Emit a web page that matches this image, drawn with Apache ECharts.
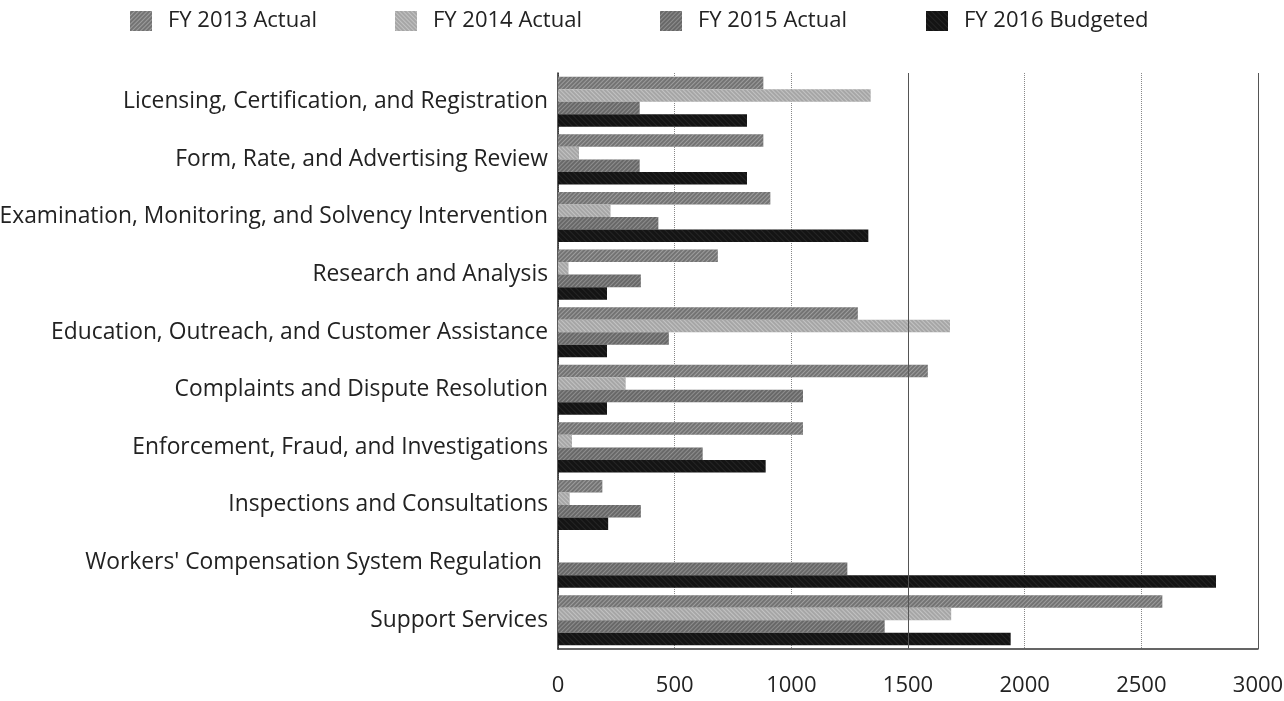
<!DOCTYPE html>
<html>
<head>
<meta charset="utf-8">
<script src="https://cdn.jsdelivr.net/npm/echarts@6/dist/echarts.min.js"></script>
<style>
html,body{margin:0;padding:0;background:#fff;}
#chart{width:1284px;height:701px;}
</style>
</head>
<body>
<div id="chart"></div>
<script>
var categories = [
  "Licensing, Certification, and Registration",
  "Form, Rate, and Advertising Review",
  "Examination, Monitoring, and Solvency Intervention",
  "Research and Analysis",
  "Education, Outreach, and Customer Assistance",
  "Complaints and Dispute Resolution",
  "Enforcement, Fraud, and Investigations",
  "Inspections and Consultations",
  "Workers' Compensation System Regulation ",
  "Support Services"
];
var seriesNames = ["FY 2013 Actual", "FY 2014 Actual", "FY 2015 Actual", "FY 2016 Budgeted"];
var fy2013 = [880, 880, 910, 685, 1285, 1585, 1050, 190, 0, 2590];
var fy2014 = [1340, 90, 225, 45, 1680, 290, 60, 50, 0, 1685];
var fy2015 = [350, 350, 430, 355, 475, 1050, 620, 355, 1240, 1400];
var fy2016 = [810, 810, 1330, 210, 210, 210, 890, 215, 2820, 1940];
var xTicks = [0, 500, 1000, 1500, 2000, 2500, 3000];

var FONT = "'Open Sans', 'DejaVu Sans', sans-serif";
var colors = ["#737373", "#a6a6a6", "#686868", "#141414"];
var decals = [
  {symbol: 'rect', dashArrayX: [1, 0], dashArrayY: [1, 2], rotation: -Math.PI / 4, color: 'rgba(255,255,255,0.3)', symbolSize: 1},
  {symbol: 'rect', dashArrayX: [1, 0], dashArrayY: [1, 2], rotation: Math.PI / 4, color: 'rgba(255,255,255,0.32)', symbolSize: 1},
  {symbol: 'rect', dashArrayX: [1, 0], dashArrayY: [1, 2], rotation: -Math.PI / 4, color: 'rgba(255,255,255,0.25)', symbolSize: 1},
  {symbol: 'rect', dashArrayX: [1, 0], dashArrayY: [1, 3], rotation: Math.PI / 4, color: 'rgba(255,255,255,0.07)', symbolSize: 1}
];
var dataArr = [fy2013, fy2014, fy2015, fy2016];
var legendLeft = [125, 390, 655, 921];

var chart = echarts.init(document.getElementById('chart'), null, {renderer: 'canvas'});
var series = seriesNames.map(function (n, i) {
  var s = {
    name: n,
    type: 'bar',
    data: dataArr[i],
    barGap: '0%',
    barCategoryGap: '13%',
    itemStyle: {color: colors[i], decal: decals[i]},
    emphasis: {disabled: true}
  };
  if (i === 0) {
    s.markLine = {
      silent: true,
      symbol: 'none',
      label: {show: false},
      lineStyle: {type: 'solid', color: '#555', width: 1},
      data: [{xAxis: 1500}, {xAxis: 3000}]
    };
  }
  return s;
});

chart.setOption({
  backgroundColor: '#ffffff',
  animation: false,
  aria: {enabled: false, decal: {show: true}},
  legend: seriesNames.map(function (n, i) {
    return {
      data: [n],
      left: legendLeft[i],
      top: 5,
      itemWidth: 22,
      itemHeight: 20,
      icon: 'rect',
      selectedMode: false,
      textStyle: {fontFamily: FONT, fontSize: 22, color: '#222', padding: [0, 0, 0, 11]}
    };
  }),
  grid: {left: 558, right: 26, top: 73, bottom: 52, containLabel: false, outerBoundsMode: 'none'},
  xAxis: {
    type: 'value',
    min: xTicks[0],
    max: xTicks[xTicks.length - 1],
    interval: xTicks[1] - xTicks[0],
    axisLine: {show: true, lineStyle: {color: '#333', width: 1.5}},
    axisTick: {show: false},
    axisLabel: {fontFamily: FONT, fontSize: 22, color: '#222', margin: 26,
      formatter: function (v) { return String(v); }},
    splitLine: {show: true, lineStyle: {type: 'dotted', color: '#888', width: 1}}
  },
  yAxis: {
    type: 'category',
    data: categories,
    inverse: true,
    axisLine: {show: true, lineStyle: {color: '#222', width: 1.5}},
    axisTick: {show: false},
    axisLabel: {fontFamily: FONT, fontSize: 22.8, color: '#222', margin: 10}
  },
  series: series
});
</script>
</body>
</html>
